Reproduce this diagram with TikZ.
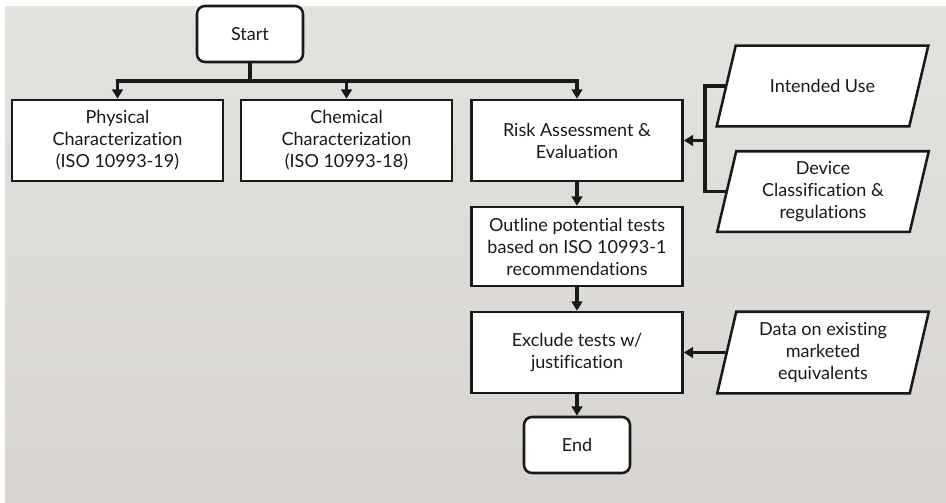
\documentclass[tikz,border=0pt]{standalone}
\usepackage{fontspec}
\setmainfont{Lato}[Ligatures=NoCommon]
\usetikzlibrary{arrows.meta,backgrounds}
\definecolor{bgtop}{RGB}{227,226,223}
\definecolor{bgbot}{RGB}{216,213,209}
\definecolor{ink}{RGB}{25,25,25}

\begin{document}
\begin{tikzpicture}[x=0.75pt,y=-0.75pt,
  font=\fontsize{13.5}{16.5}\selectfont,
  every node/.style={text=ink,align=center},
  box/.style={draw=ink,line width=1.9pt,fill=white,inner sep=0pt,
    minimum width=158.25pt,minimum height=60.75pt},
  term/.style={box,rounded corners=6pt,minimum width=79.5pt,minimum height=42pt},
  inbox/.style={inner sep=0pt,minimum width=158.25pt,minimum height=60pt},
  slant/.style={draw=ink,line width=1.9pt,fill=white,line join=miter},
  arr/.style={draw=ink,line width=2.6pt,-{Triangle[length=7pt,width=8pt]}},
  lnk/.style={draw=ink,line width=2.6pt}]
  \useasboundingbox (0,0) rectangle (946,503);
  \begin{scope}[on background layer]
    \fill[white] (0,0) rectangle (946,503);
    \shade[top color=bgtop,bottom color=bgbot] (5,7) rectangle (946,503);
  \end{scope}

  \node[term] (start) at (250,34) {Start};
  \node[box] (phys) at (117.5,140.5) {Physical\\Characterization\\(ISO 10993-19)};
  \node[box] (chem) at (346.5,140.5) {Chemical\\Characterization\\(ISO 10993-18)};
  \node[box] (risk) at (577,140.5) {Risk Assessment \&\\Evaluation};
  \node[box,minimum height=59.25pt] (outline) at (577,246.5) {Outline potential tests\\based on ISO 10993-1\\recommendations};
  \node[box] (excl) at (577,352.5) {Exclude tests w/\\justification};
  \node[term] (end) at (577,445) {End};
  \node[inbox] (use) at (822.5,86) {Intended Use};
  \node[inbox] (dev) at (823,191.5) {Device\\Classification \&\\regulations};
  \node[inbox,minimum height=60.75pt] (data) at (823,352.5) {Data on existing\\marketed\\equivalents};

  \begin{scope}[on background layer]
    \foreach \n in {use,dev,data}
      \draw[slant] ([xshift=14.25pt]\n.north west) -- (\n.north east)
        -- ([xshift=-14.25pt]\n.south east) -- (\n.south west) -- cycle;
  \end{scope}

  \coordinate (split) at (250,81);
  \coordinate (bus) at (705,140.5);

  \draw[lnk] (start.south) -- (split);
  \draw[arr] (split) -| (phys.north);
  \draw[arr] (split) -| (chem.north);
  \draw[arr] (split) -| (risk.north);
  \draw[arr] (risk) -- (outline);
  \draw[arr] (outline) -- (excl);
  \draw[arr] (excl) -- (end);
  \draw[lnk] ([xshift=7.1pt]use.west) -| (bus);
  \draw[lnk] ([xshift=7.1pt]dev.west) -| (bus);
  \draw[arr] (bus) -- (risk.east);
  \draw[arr] ([xshift=7.1pt]data.west) -- (excl.east);
\end{tikzpicture}
\end{document}
